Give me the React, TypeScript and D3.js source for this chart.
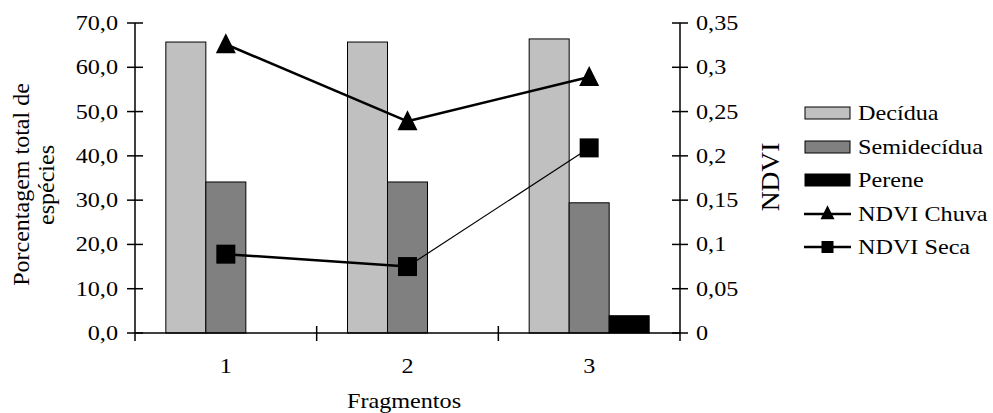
import React from "react";
import * as d3 from "d3";

const categories = ["1", "2", "3"];
const decidua = [65.7, 65.7, 66.4];
const semidecidua = [34.1, 34.1, 29.4];
const perene = [0, 0, 3.9];
const ndviChuva = [0.326, 0.239, 0.289];
const ndviSeca = [0.089, 0.075, 0.209];
const leftTicks = [0, 10, 20, 30, 40, 50, 60, 70];
const rightTicks = [0, 0.05, 0.1, 0.15, 0.2, 0.25, 0.3, 0.35];
const seriesNames = ["Decídua", "Semidecídua", "Perene"];
const seriesColors = ["#c0c0c0", "#808080", "#000000"];

const W = 993, H = 413;
const L = 135, R = 680, T = 23, B = 333;
const FONT = "'Liberation Serif', 'Times New Roman', Tinos, serif";
const FS = 20.5;
const SX = 1.18;

function Txt(props: { x: number; y: number; anchor?: string; children: React.ReactNode; dy?: string }) {
  return (
    <text transform={`translate(${props.x},${props.y}) scale(${SX},1)`} textAnchor={props.anchor || "start"}
      dy={props.dy} fontSize={FS} style={{ fontFamily: FONT }}>
      {props.children}
    </text>
  );
}

export default function App() {
  const x = d3.scaleBand<string>().domain(categories).range([L, R]);
  const y = d3.scaleLinear().domain([0, 70]).range([B, T]);
  const y2 = d3.scaleLinear().domain([0, 0.35]).range([B, T]);
  const barW = 40;
  const series = [decidua, semidecidua, perene];
  const cx = (c: string) => (x(c) as number) + x.bandwidth() / 2;
  const fmtL = (v: number) => v.toFixed(1).replace(".", ",");
  const fmtR = (v: number) => String(+v.toFixed(2)).replace(".", ",");
  const tri = (px: number, py: number, s: number) =>
    `M${px},${py - s * 0.55}L${px + s / 2},${py + s * 0.45}L${px - s / 2},${py + s * 0.45}Z`;
  const legY = [113, 147, 180, 214, 247];
  return (
    <svg width={W} height={H} style={{ position: "absolute", left: 0, top: 0, background: "#fff", fontFamily: FONT }}>
      {series.map((vals, si) =>
        vals.map((v, i) =>
          v > 0 ? (
            <rect key={`${si}-${i}`} x={cx(categories[i]) - 1.5 * barW + si * barW} y={y(v)} width={barW} height={B - y(v)}
              fill={seriesColors[si]} stroke="#000" strokeWidth={1} />
          ) : null
        )
      )}
      <line x1={L} x2={R} y1={B} y2={B} stroke="#000" strokeWidth={1.5} />
      <line x1={L} x2={L} y1={T} y2={B + 8} stroke="#000" strokeWidth={1.5} />
      <line x1={R} x2={R} y1={T} y2={B + 8} stroke="#000" strokeWidth={1.5} />
      {categories.slice(1).map((c) => (
        <line key={c} x1={x(c)} x2={x(c)} y1={B - 7} y2={B + 8} stroke="#000" strokeWidth={1.5} />
      ))}
      {leftTicks.map((t) => (
        <g key={t}>
          <line x1={L - 8} x2={L + 8} y1={y(t)} y2={y(t)} stroke="#000" strokeWidth={1.5} />
          <Txt x={L - 17} y={y(t)} dy="0.34em" anchor="end">{fmtL(t)}</Txt>
        </g>
      ))}
      {rightTicks.map((t) => (
        <g key={t}>
          <line x1={R - 8} x2={R + 8} y1={y2(t)} y2={y2(t)} stroke="#000" strokeWidth={1.5} />
          <Txt x={R + 16} y={y2(t)} dy="0.34em">{fmtR(t)}</Txt>
        </g>
      ))}
      {categories.map((c) => (
        <Txt key={c} x={cx(c)} y={373} anchor="middle">{c}</Txt>
      ))}
      <Txt x={404} y={408} anchor="middle">Fragmentos</Txt>
      <text transform="translate(28.5,184.5) rotate(-90)" textAnchor="middle" fontSize={24}>Porcentagem total de</text>
      <text transform="translate(53.5,185) rotate(-90)" textAnchor="middle" fontSize={24}>espécies</text>
      <text transform="translate(779,177) rotate(-90) scale(1.1,1)" textAnchor="middle" fontSize={25}>NDVI</text>
      {ndviChuva.slice(1).map((v, i) => (
        <line key={`c${i}`} x1={cx(categories[i])} y1={y2(ndviChuva[i])} x2={cx(categories[i + 1])} y2={y2(v)} stroke="#000" strokeWidth={2.5} />
      ))}
      {ndviSeca.slice(1).map((v, i) => (
        <line key={`s${i}`} x1={cx(categories[i])} y1={y2(ndviSeca[i])} x2={cx(categories[i + 1])} y2={y2(v)} stroke="#000" strokeWidth={i === 0 ? 2.5 : 1.2} />
      ))}
      {ndviChuva.map((v, i) => (
        <path key={`tc${i}`} d={tri(cx(categories[i]), y2(v), 20)} fill="#000" />
      ))}
      {ndviSeca.map((v, i) => (
        <rect key={`rs${i}`} x={cx(categories[i]) - 9.5} y={y2(v) - 9.5} width={19} height={19} fill="#000" />
      ))}
      {seriesNames.map((n, i) => (
        <g key={n}>
          <rect x={805} y={legY[i] - 6} width={45} height={12} fill={seriesColors[i]} stroke="#000" strokeWidth={1} />
          <Txt x={858} y={legY[i]} dy="0.34em">{n}</Txt>
        </g>
      ))}
      <line x1={804} x2={851} y1={legY[3]} y2={legY[3]} stroke="#000" strokeWidth={2.5} />
      <path d={tri(827.5, legY[3] - 1, 14)} fill="#000" />
      <Txt x={858} y={legY[3]} dy="0.34em">NDVI Chuva</Txt>
      <line x1={804} x2={851} y1={legY[4]} y2={legY[4]} stroke="#000" strokeWidth={2.5} />
      <rect x={821.5} y={legY[4] - 6} width={12} height={12} fill="#000" />
      <Txt x={858} y={legY[4]} dy="0.34em">NDVI Seca</Txt>
    </svg>
  );
}
